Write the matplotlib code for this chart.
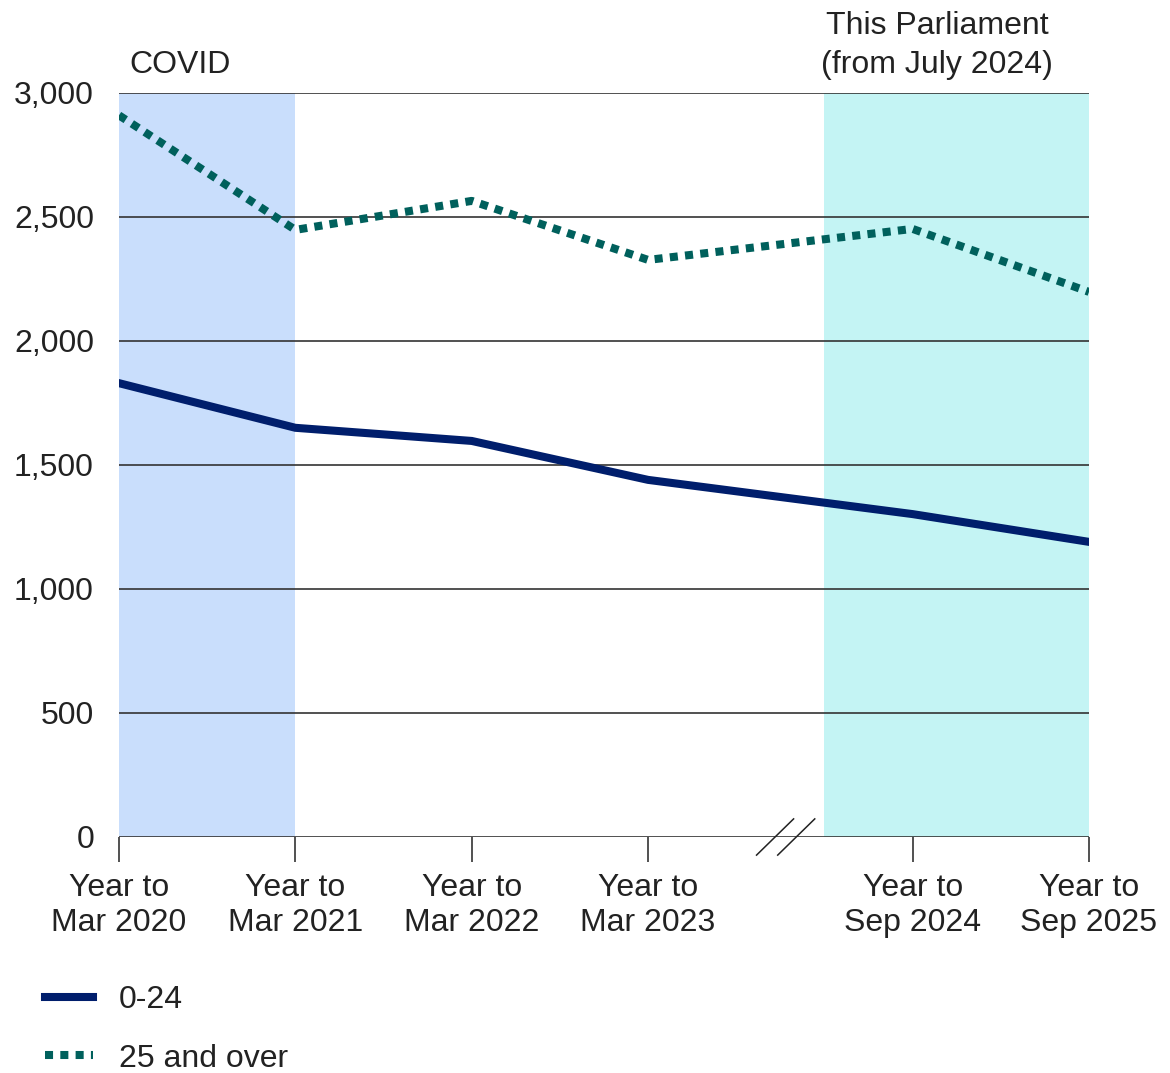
import matplotlib.pyplot as plt
from matplotlib.lines import Line2D

plt.rcParams['font.family'] = ['Liberation Sans', 'DejaVu Sans']

# data
periods = ["Year to\nMar 2020", "Year to\nMar 2021", "Year to\nMar 2022",
           "Year to\nMar 2023", "Year to\nSep 2024", "Year to\nSep 2025"]
x_pos = [0, 1, 2, 3, 4.5, 5.5]
age_0_24 = [1830, 1650, 1597, 1440, 1302, 1190]
age_25_over = [2910, 2448, 2565, 2327, 2452, 2198]
y_ticks = [0, 500, 1000, 1500, 2000, 2500, 3000]

navy = "#001E6C"
teal = "#00605C"
fs = 23

fig = plt.figure(figsize=(11.7, 10.73), dpi=100)
ax = fig.add_axes([119 / 1170, (1073 - 837) / 1073, (1089 - 119) / 1170, (837 - 93) / 1073])

# shaded periods
ax.axvspan(0, 1, color="#C9DEFC", lw=0, zorder=0)
ax.axvspan(4.0, 5.5, color="#C4F4F4", lw=0, zorder=0)

for y in y_ticks:
    ax.axhline(y, color="#333333", lw=1.2, zorder=1)

ax.plot(x_pos, age_0_24, color=navy, lw=5.8, solid_joinstyle="miter", zorder=3)
ax.plot(x_pos, age_25_over, color=teal, lw=5.8, dashes=(1, 0.9),
        dash_capstyle="butt", zorder=3)

ax.set_xlim(0, 5.5)
ax.set_ylim(0, 3000)
ax.set_yticks(y_ticks)
ax.set_yticklabels([f"{v:,}" for v in y_ticks])
ax.set_xticks(x_pos)
ax.set_xticklabels(periods, linespacing=1.2)
for s in ["top", "right", "left", "bottom"]:
    ax.spines[s].set_visible(False)
ax.tick_params(axis="y", length=0, labelsize=fs, pad=18, colors="#222222")
ax.tick_params(axis="x", length=18, width=1.2, color="#333333", labelsize=fs,
               pad=8, colors="#222222")

# axis break marks
for xb in [3.72, 3.84]:
    ax.add_line(Line2D([xb - 0.105, xb + 0.105], [-73, 73], color="#222222", lw=1.1,
                       clip_on=False))

ax.text(0.06, 3080, "COVID", fontsize=fs, color="#222222", ha="left", va="baseline")
ax.text(4.64, 3080, "This Parliament\n(from July 2024)", fontsize=fs,
        color="#222222", ha="center", va="baseline", linespacing=1.4)

handles = [Line2D([], [], color=navy, lw=5.8),
           Line2D([], [], color=teal, lw=5.8, dashes=(1, 0.9), dash_capstyle="butt")]
fig.legend(handles, ["0-24", "25 and over"], loc="upper left",
           bbox_to_anchor=(0.017, 0.106), frameon=False, fontsize=fs,
           handlelength=1.5, handletextpad=0.8, labelspacing=0.9,
           labelcolor="#222222", borderpad=0.3)

fig.savefig("out.png", dpi=100)
